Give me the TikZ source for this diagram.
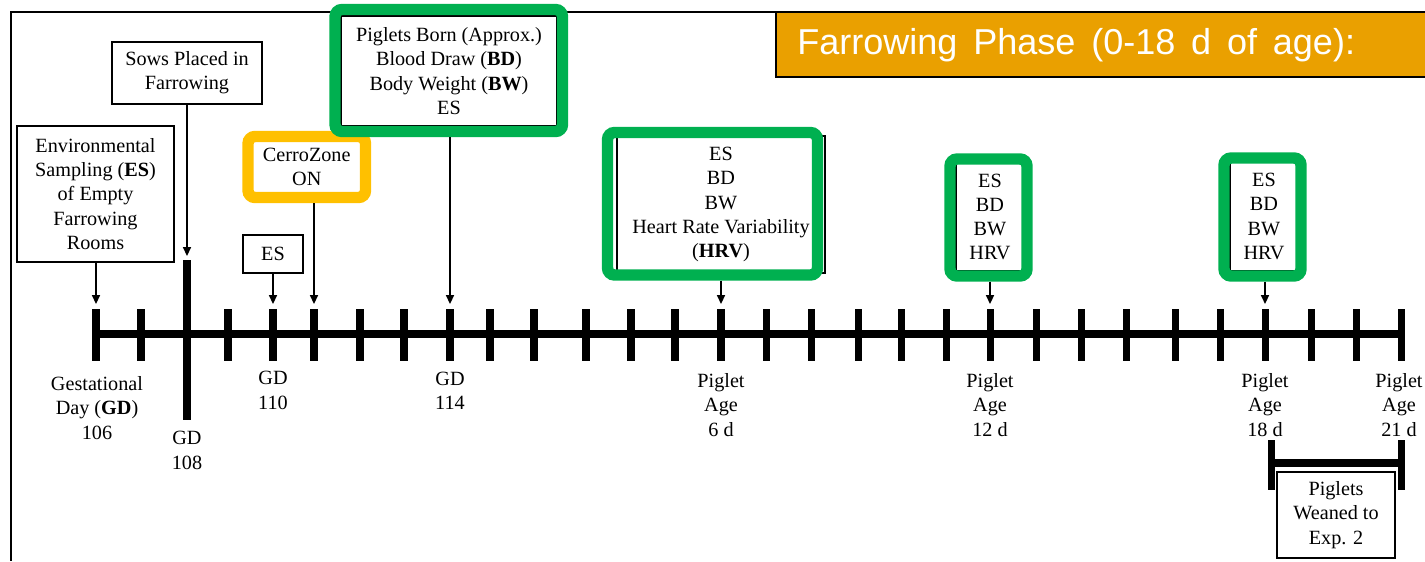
\documentclass[tikz,border=0pt]{standalone}
\usepackage{fontspec}
\setmainfont{Liberation Serif}
\newfontfamily\titlefont{Liberation Sans}
\usepackage{tikz}
\usetikzlibrary{arrows.meta, fit, positioning}
\definecolor{hlgreen}{RGB}{0,176,80}
\definecolor{hlgold}{RGB}{255,192,0}
\definecolor{phaseorange}{RGB}{234,160,0}
\tikzstyle{plainbox}  = [rectangle, draw=black, line width=0.9pt,
    inner sep=0pt, align=center, fill=white]
\tikzstyle{greenring} = [rectangle, draw=hlgreen, line width=6.5pt,
    rounded corners=4pt, inner sep=0pt, align=center]
\tikzstyle{goldring}  = [greenring, draw=hlgold, fill=white]
\tikzstyle{arrow}     = [-{Triangle[length=5pt,width=4.5pt]}, line width=0.9pt]
\tikzstyle{daytick}   = [line width=4pt]
\tikzstyle{daylabel}  = [align=center, inner sep=0pt]

\begin{document}
\begin{tikzpicture}[x=0.02cm, y=-0.02cm,
    every node/.style={font=\fontsize{11.5}{13.8}\selectfont}]
  \useasboundingbox (0,0) rectangle (1425,561);

  % Frame and phase title
  \draw[line width=0.9pt] (1425,12) -- (11,12) -- (11,561);
  \node[fill=phaseorange, draw=black, line width=0.6pt, inner sep=0pt,
        fit={(776,12) (1440,77)}] (phase) {};
  \node[anchor=west, text=white, inner sep=0pt,
        font=\titlefont\fontsize{20.5}{24}\selectfont] (phasetxt) at (797,45)
        {\spaceskip=0.44em Farrowing Phase (0-18 d of age):};

  % Timeline
  \draw[daytick] (96,334) -- (1401,334);
  \foreach \x [count=\i from 0] in {96,141,187,228,273,314,360,404,450,490,
      534,586,631,675,721,766,811,858,901,946,990,1036,1081,1126,1175,1220,
      1265,1311,1356,1401} {
    \draw[daytick] (\x,309) -- (\x,361);
    \coordinate (in\i) at (\x,304);
  }
  \draw[daytick] (187,260) -- (187,420);
  \coordinate (sowsin) at (187,256);

  % Event boxes
  \node[plainbox, minimum width=3.14cm, minimum height=2.72cm] (env) at (95.5,194)
    {Environmental\\Sampling (\textbf{ES})\\of Empty\\Farrowing\\Rooms};
  \node[plainbox, minimum width=3cm, minimum height=1.24cm] (sows) at (187,73)
    {Sows Placed in\\Farrowing};
  \node[goldring, minimum width=2.35cm, minimum height=1.22cm] (cerro) at (306.75,167)
    {CerroZone\\ON};
  \node[plainbox, minimum width=1.2cm, minimum height=0.76cm] (es110) at (273,254) {ES};

  \node[plainbox, minimum width=4.32cm, minimum height=2.2cm] (born) at (449,71)
    {Piglets Born (Approx.)\\Blood Draw (\textbf{BD})\\Body Weight (\textbf{BW})\\ES};
  \node[greenring, minimum width=4.55cm, minimum height=2.44cm] (bornring) at (448.75,70.5) {};

  \node[plainbox, minimum width=4.16cm, minimum height=2.74cm] (hrv6) at (721,204.5)
    {ES\\BD\\BW\\Heart Rate Variability\\(\textbf{HRV})};
  \node[greenring, minimum width=4.2cm, minimum height=2.85cm] (hrv6ring) at (712.5,203.75) {};

  \node[plainbox, minimum width=1.36cm, minimum height=2.16cm] (hrv12) at (990,217)
    {ES\\BD\\BW\\HRV};
  \node[greenring, minimum width=1.54cm, minimum height=2.34cm] (hrv12ring) at (988.5,217.5) {};

  \node[plainbox, minimum width=1.36cm, minimum height=2.18cm] (hrv18) at (1264,216.5)
    {ES\\BD\\BW\\HRV};
  \node[greenring, minimum width=1.54cm, minimum height=2.36cm] (hrv18ring) at (1262.5,217) {};

  % Arrows to the days
  \draw[arrow] (env.south -| in0) -- (in0);
  \draw[arrow] (sows.south -| sowsin) -- (sowsin);
  \draw[arrow] (es110) -- (in4);
  \draw[arrow] (cerro.south -| in5) -- (in5);
  \draw[arrow] (bornring.south -| in8) -- (in8);
  \draw[arrow] (hrv6ring.south -| in14) -- (in14);
  \draw[arrow] (hrv12ring.south -| in20) -- (in20);
  \draw[arrow] (hrv18ring.south -| in26) -- (in26);

  % Day labels
  \node[daylabel] (gd106) at (97,408) {Gestational\\Day (\textbf{GD})\\106};
  \node[daylabel] (gd108) at (187,450.5) {GD\\108};
  \node[daylabel] (gd110) at (273,390.5) {GD\\110};
  \node[daylabel] (gd114) at (450,390.5) {GD\\114};
  \node[daylabel] (age6)  at (721,405) {Piglet\\Age\\6 d};
  \node[daylabel] (age12) at (990,405) {Piglet\\Age\\12 d};
  \node[daylabel] (age18) at (1265,405) {Piglet\\Age\\18 d};
  \node[daylabel] (age21) at (1399,405) {Piglet\\Age\\21 d};

  % Weaning bracket
  \draw[daytick] (1271,440) -- (1271,490);
  \draw[daytick] (1401,440) -- (1401,490);
  \draw[daytick] (1271,463) -- (1401,463);
  \node[plainbox, minimum width=2.36cm, minimum height=1.72cm] (weaned) at (1336,515)
    {Piglets\\Weaned to\\Exp. 2};
\end{tikzpicture}
\end{document}
